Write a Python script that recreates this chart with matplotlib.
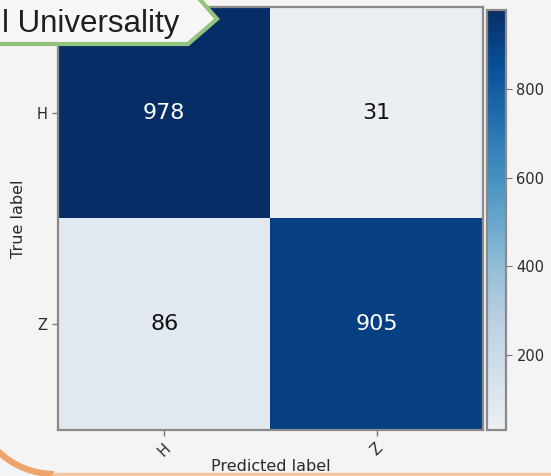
import numpy as np
import matplotlib
matplotlib.use("Agg")
import matplotlib.pyplot as plt
from matplotlib.colors import LinearSegmentedColormap
from matplotlib.patches import Polygon, Arc
from matplotlib.lines import Line2D

plt.rcParams["font.family"] = ["DejaVu Sans"]

# Confusion matrix data
class_names = ["H", "Z"]
counts = [[978, 31],
          [86, 905]]
cbar_ticks = [200, 400, 600, 800]
banner_text = "l Universality"

W, H = 551, 476
BG = "#f4f4f4"

fig = plt.figure(figsize=(W / 100, H / 100), dpi=100, facecolor=BG)


def fx(px):
    return px / W


def fy(py):
    return 1 - py / H


# Slightly muted version of the Blues colormap
base = plt.get_cmap("Blues")
cols = base(np.linspace(0, 1, 256))
cols[:, :3] *= 0.955
cmap = LinearSegmentedColormap.from_list("muted_blues", cols)

mat = np.array(counts)
ax = fig.add_axes([fx(58), fy(430), fx(483) - fx(58), fy(7) - fy(430)])
ax.set_facecolor(BG)
im = ax.imshow(mat, cmap=cmap, aspect="auto", interpolation="nearest",
               vmin=mat.min(), vmax=mat.max())

thresh = mat.max() / 2
for i in range(mat.shape[0]):
    for j in range(mat.shape[1]):
        ax.text(j, i, f"{mat[i, j]}", ha="center", va="center", fontsize=16,
                color="white" if mat[i, j] > thresh else "#111111")

ax.set_xticks(range(len(class_names)))
ax.set_yticks(range(len(class_names)))
ax.set_xticklabels(class_names, rotation=45, fontsize=10.5)
ax.set_yticklabels(class_names, fontsize=10.5)
ax.tick_params(colors="#777777", length=4, width=1, labelcolor="#2a2a2a")
ax.set_xlabel("Predicted label", fontsize=11.5, color="#2a2a2a", labelpad=0)
ax.set_ylabel("True label", fontsize=11.5, color="#2a2a2a", labelpad=8)
for s in ax.spines.values():
    s.set_color("#8a8a8a")
    s.set_linewidth(1.6)

cax = fig.add_axes([fx(487), fy(430), fx(506) - fx(487), fy(10) - fy(430)])
cb = fig.colorbar(im, cax=cax, ticks=cbar_ticks)
cb.ax.tick_params(labelsize=10.5, colors="#777777", labelcolor="#2a2a2a", length=4)
cb.outline.set_edgecolor("#8a8a8a")
cb.outline.set_linewidth(1.6)

# Title banner in the top-left corner
pts = [(-5, -5), (196, -5), (217, 19), (188, 44), (-5, 44)]
banner = Polygon([(fx(x), fy(y)) for x, y in pts], closed=True,
                 transform=fig.transFigure, facecolor="#f7f7f7",
                 edgecolor="#93c47d", linewidth=3, zorder=10)
fig.add_artist(banner)
fig.text(fx(2), fy(32), banner_text, fontsize=22.5, family="Liberation Sans",
         color="#1e1e1e", ha="left", va="baseline", zorder=11)

# Orange rounded frame edge along the bottom
cx, cy, r = 54, 394, 80
arc = Arc((fx(cx), fy(cy)), 2 * r / W, 2 * r / H, theta1=180, theta2=270,
          transform=fig.transFigure, color="#eea46a", linewidth=4.5, zorder=10)
fig.add_artist(arc)
fig.add_artist(Line2D([fx(cx), fx(W + 5)], [fy(cy + r), fy(cy + r)],
                      transform=fig.transFigure, color="#f3c4a0",
                      linewidth=2.5, zorder=10))

fig.savefig("out.png", dpi=100, facecolor=BG)
